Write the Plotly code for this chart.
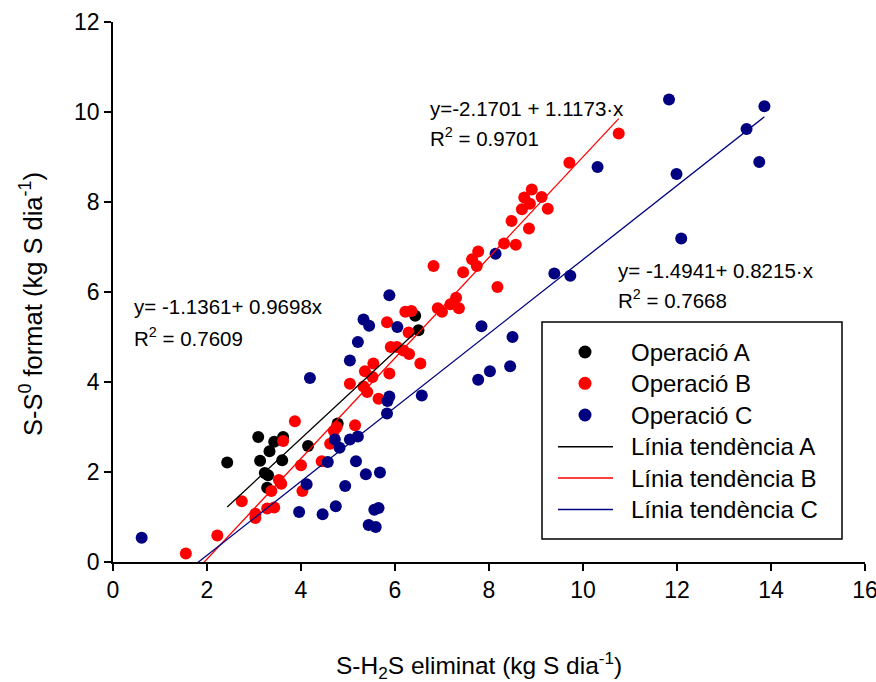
import plotly.graph_objects as go

# Operació A
a_x = [2.43, 3.09, 3.13, 3.33, 3.43, 3.62, 3.60, 3.23, 3.30, 3.28, 4.15, 4.78, 6.43, 6.50]
a_y = [2.21, 2.78, 2.25, 2.46, 2.67, 2.78, 2.26, 1.98, 1.93, 1.65, 2.58, 3.08, 5.47, 5.15]

# Operació B
b_x = [1.55, 2.22, 2.74, 3.03, 3.03, 3.28, 3.43, 3.37, 3.53, 3.58, 3.62, 3.87, 4.00, 4.03,
       4.44, 4.62, 4.70, 4.76, 5.15, 5.04, 5.33, 5.41, 5.36, 5.54, 5.52, 5.65, 5.88, 5.83,
       5.91, 6.04, 6.18, 6.29, 6.22, 6.35, 6.30, 6.54, 10.76, 9.71, 8.91, 8.75, 8.87, 9.12,
       8.70, 9.25, 8.48, 8.85, 8.32, 8.57, 7.77, 7.64, 7.74, 7.45, 6.82, 8.18, 7.30, 7.18,
       7.36, 6.91, 7.00]
b_y = [0.19, 0.59, 1.35, 1.07, 0.98, 1.19, 1.21, 1.58, 1.82, 1.74, 2.69, 3.13, 2.15, 1.58,
       2.24, 2.63, 2.91, 3.00, 3.04, 3.96, 3.90, 3.78, 4.24, 4.41, 4.11, 3.63, 4.19, 5.33,
       4.78, 4.78, 4.70, 5.10, 5.56, 5.58, 4.62, 4.41, 9.52, 8.87, 8.28, 8.10, 7.96, 8.11,
       7.84, 7.85, 7.58, 7.41, 7.08, 7.05, 6.90, 6.73, 6.58, 6.44, 6.58, 6.11, 5.87, 5.73,
       5.64, 5.64, 5.56]

# Operació C
c_x = [0.61, 3.96, 4.12, 4.19, 4.46, 4.57, 4.72, 4.74, 4.82, 4.94, 5.04, 5.04, 5.21, 5.21,
       5.17, 5.33, 5.45, 5.38, 5.44, 5.59, 5.56, 5.65, 5.68, 5.83, 5.84, 5.88, 5.88, 6.05,
       6.57, 10.31, 8.14, 9.39, 9.73, 7.84, 8.50, 8.45, 8.02, 7.77, 11.83, 13.86, 13.48,
       13.75, 11.99, 12.09]
c_y = [0.54, 1.11, 1.73, 4.09, 1.06, 2.22, 2.72, 1.24, 2.54, 1.69, 4.48, 2.72, 4.89, 2.79,
       2.24, 5.39, 5.25, 1.95, 0.82, 0.78, 1.16, 1.20, 1.99, 3.30, 3.58, 3.68, 5.93, 5.22,
       3.70, 8.78, 6.85, 6.41, 6.36, 5.24, 5.00, 4.35, 4.24, 4.05, 10.28, 10.13, 9.62,
       8.89, 8.62, 7.19]

# Trend lines: intercept, slope
fit_a = (-1.1361, 0.9698)
fit_b = (-2.1701, 1.1173)
fit_c = (-1.4941, 0.8215)

series_names = ["Operació A", "Operació B", "Operació C"]
trend_names = ["Línia tendència A", "Línia tendència B", "Línia tendència C"]

x_ticks = [0, 2, 4, 6, 8, 10, 12, 14, 16]
y_ticks = [0, 2, 4, 6, 8, 10, 12]

FONT = "Liberation Sans, Arial, sans-serif"
COLORS = ["#000000", "#FF0000", "#000080"]

W, H = 876, 682
ML, MR, MT, MB = 113, 11, 22, 120
PW, PH = W - ML - MR, H - MT - MB


def px(xp):
    return (xp - ML) / PW


def py(yp):
    return (H - MB - yp) / PH


fig = go.Figure()
for name, xs, ys, col in zip(series_names, [a_x, b_x, c_x], [a_y, b_y, c_y], COLORS):
    fig.add_trace(go.Scatter(x=xs, y=ys, mode="markers", name=name, showlegend=False,
                             marker=dict(size=12, color=col, line=dict(width=0))))

for name, xs, fit, col in zip(trend_names, [a_x, b_x, c_x], [fit_a, fit_b, fit_c], COLORS):
    x0, x1 = min(xs), max(xs)
    fig.add_trace(go.Scatter(x=[x0, x1], y=[fit[0] + fit[1] * x0, fit[0] + fit[1] * x1],
                             mode="lines", name=name, showlegend=False,
                             line=dict(color=col, width=1.3)))

ann_font = dict(family=FONT, size=20.5, color="black")
anns = [
    (0.41, 5.67, "y= -1.1361+ 0.9698x"),
    (0.41, 5.00, "R<sup>2</sup> = 0.7609"),
    (6.71, 10.08, "y=-2.1701 + 1.1173·x"),
    (6.71, 9.44, "R<sup>2</sup> = 0.9701"),
    (10.71, 6.48, "y= -1.4941+ 0.8215·x"),
    (10.71, 5.84, "R<sup>2</sup> = 0.7668"),
]
for x, y, t in anns:
    fig.add_annotation(x=x, y=y, text=t, showarrow=False, xanchor="left",
                       yanchor="middle", font=ann_font)

# axis titles
fig.add_annotation(x=px(479), y=py(665), xref="paper", yref="paper", showarrow=False,
                   text="S-H<sub>2</sub>S eliminat (kg S dia<sup>-1</sup>)",
                   font=dict(family=FONT, size=24.5, color="black"),
                   xanchor="center", yanchor="middle")
fig.add_annotation(x=px(31), y=py(304), xref="paper", yref="paper", showarrow=False,
                   text="S-S<sup>0</sup> format (kg S dia<sup>-1</sup>)", textangle=-90,
                   font=dict(family=FONT, size=25.5, color="black"),
                   xanchor="center", yanchor="middle")

# legend (box, keys and labels)
shapes = [dict(type="rect", xref="paper", yref="paper", x0=px(542), x1=px(842),
               y0=py(539), y1=py(322), line=dict(color="black", width=1.5),
               fillcolor="white", layer="above")]
rows = [352, 383.3, 415, 446.7, 478, 509.4]
r = 6.5
for i, (name, col) in enumerate(zip(series_names, COLORS)):
    yc = rows[i]
    shapes.append(dict(type="circle", xref="paper", yref="paper",
                       x0=px(585 - r), x1=px(585 + r), y0=py(yc + r), y1=py(yc - r),
                       fillcolor=col, line=dict(width=0), layer="above"))
    fig.add_annotation(x=px(629), y=py(yc), xref="paper", yref="paper", text=name,
                       showarrow=False, xanchor="left", yanchor="middle",
                       font=dict(family=FONT, size=24, color="black"))
for i, (name, col) in enumerate(zip(trend_names, COLORS)):
    yc = rows[3 + i]
    shapes.append(dict(type="line", xref="paper", yref="paper",
                       x0=px(558), x1=px(613), y0=py(yc), y1=py(yc),
                       line=dict(color=col, width=1.5), layer="above"))
    fig.add_annotation(x=px(629), y=py(yc), xref="paper", yref="paper", text=name,
                       showarrow=False, xanchor="left", yanchor="middle",
                       font=dict(family=FONT, size=24, color="black"))

fig.update_layout(
    width=W, height=H,
    margin=dict(l=ML, r=MR, t=MT, b=MB),
    paper_bgcolor="white", plot_bgcolor="white",
    font=dict(family=FONT, size=23, color="black"),
    showlegend=False,
    shapes=shapes,
    xaxis=dict(range=[0, 16], tickvals=x_ticks, ticktext=[str(v) for v in x_ticks],
               showgrid=False, zeroline=False, showline=True, linecolor="black",
               linewidth=1.5, ticks="outside", ticklen=7, tickwidth=1.5,
               tickcolor="black", tickfont=dict(size=23), automargin=False,
               ticklabeloverflow="allow"),
    yaxis=dict(range=[0, 12], tickvals=y_ticks, ticktext=[str(v) for v in y_ticks],
               showgrid=False, zeroline=False, showline=True, linecolor="black",
               linewidth=1.5, ticks="outside", ticklen=7, tickwidth=1.5,
               tickcolor="black", tickfont=dict(size=23), automargin=False,
               ticklabeloverflow="allow"),
)

fig.write_html("out.html", config={"displayModeBar": False},
               post_script="document.body.style.margin='0';document.body.style.overflow='hidden';")
